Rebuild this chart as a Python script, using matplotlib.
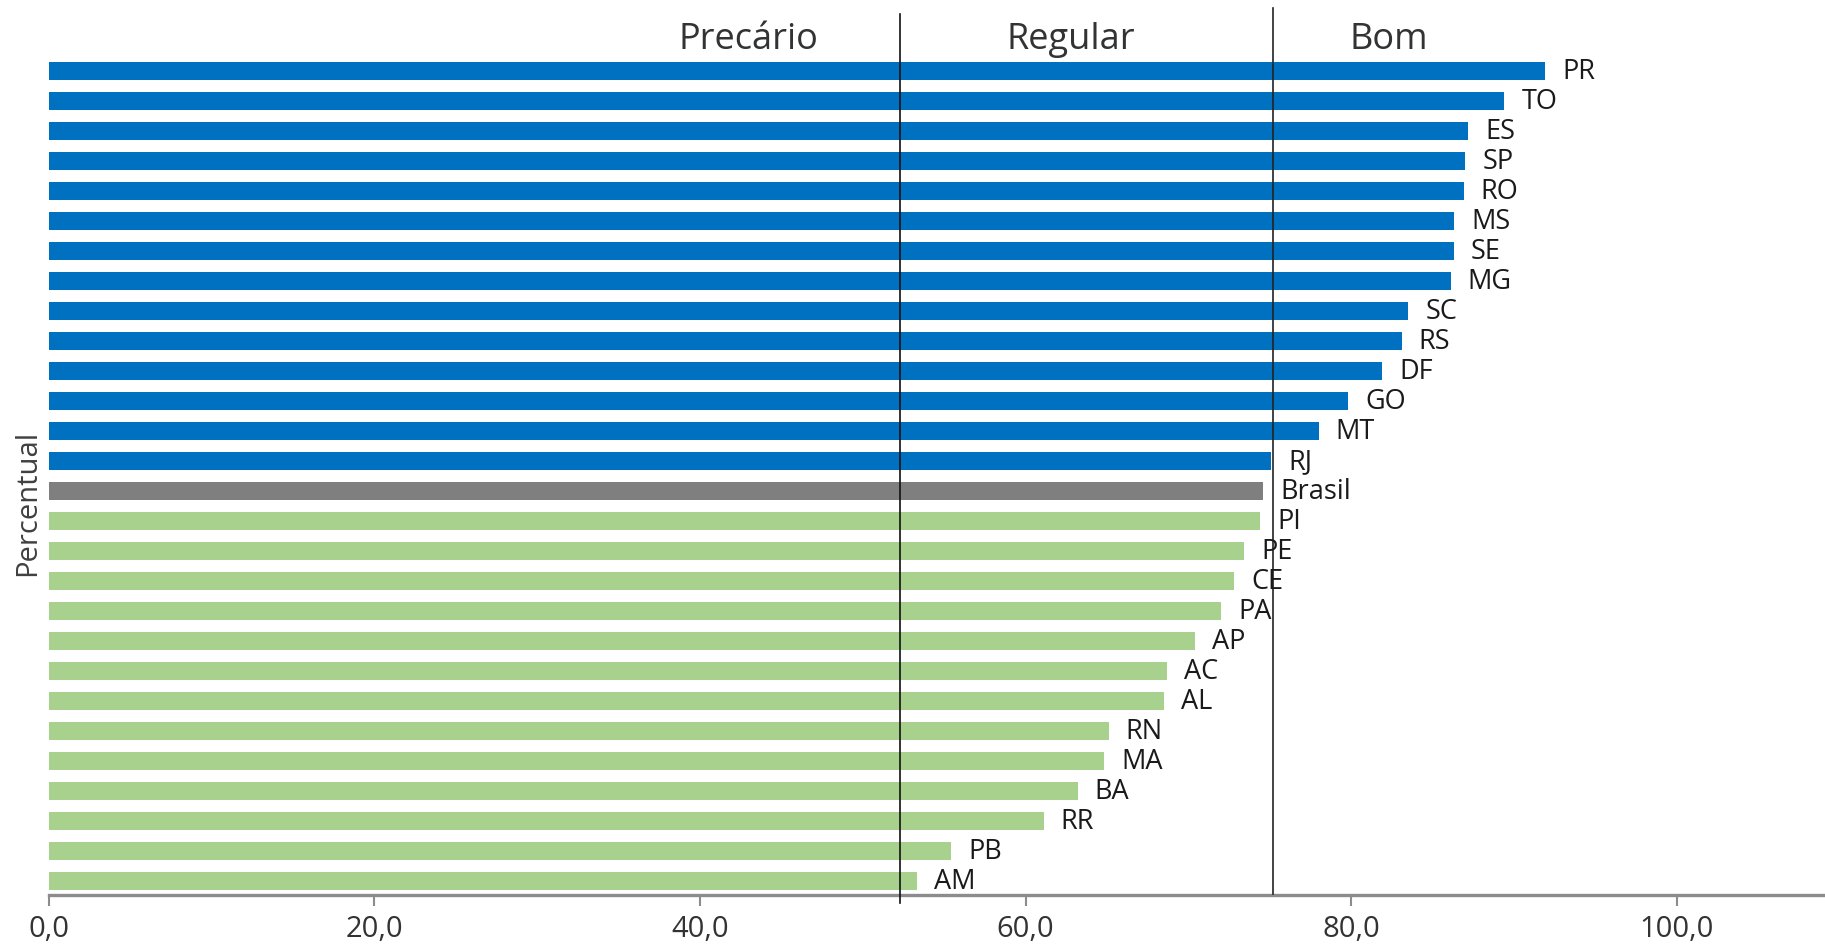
import matplotlib.pyplot as plt

plt.rcParams['font.family'] = ['Open Sans', 'DejaVu Sans']

# dados
estados = ["PR", "TO", "ES", "SP", "RO", "MS", "SE", "MG", "SC", "RS", "DF", "GO", "MT", "RJ",
           "Brasil", "PI", "PE", "CE", "PA", "AP", "AC", "AL", "RN", "MA", "BA", "RR", "PB", "AM"]
valores = [91.9, 89.4, 87.2, 87.0, 86.9, 86.3, 86.3, 86.1, 83.5, 83.1, 81.9, 79.8, 78.0, 75.1,
           74.6, 74.4, 73.4, 72.8, 72.0, 70.4, 68.7, 68.5, 65.1, 64.8, 63.2, 61.1, 55.4, 53.3]
grupos = ["bom"] * 14 + ["brasil"] + ["regular"] * 13
limites = [52.3, 75.2]
faixas = ["Precário", "Regular", "Bom"]
faixas_x = [43.0, 62.8, 82.3]
ticks = [0, 20, 40, 60, 80, 100]

cores = {"bom": "#0070C0", "brasil": "#7F7F7F", "regular": "#A9D18E"}

fig = plt.figure(figsize=(18.25, 9.45), dpi=100)
ax = fig.add_axes([0.0268, 0.052, 0.9732, 0.938])

pos = list(range(len(estados)))
ax.barh(pos, valores, height=0.6, color=[cores[g] for g in grupos], zorder=2)

for y, v, e in zip(pos, valores, estados):
    ax.text(v + 1.05, y, e, va="center", ha="left", fontsize=19.5, color="#1a1a1a", zorder=4)

# linhas de corte
ax.plot([limites[0], limites[0]], [27.75, -1.93], color="#111111", lw=1.2, zorder=3,
        clip_on=False)
ax.plot([limites[1], limites[1]], [27.45, -2.1], color="#222222", lw=1.2, zorder=3,
        clip_on=False)

for x, t in zip(faixas_x, faixas):
    ax.text(x, -1.07, t, ha="center", va="center", fontsize=26, color="#333333")

ax.set_ylim(27.467, -2.1)
ax.set_xlim(0, 109.1)

ax.set_xticks(ticks)
ax.set_xticklabels([f"{t:.1f}".replace(".", ",") for t in ticks])
ax.tick_params(axis="x", direction="out", length=8, width=1.5, color="#8c8c8c",
               labelsize=21, labelcolor="#333333", pad=6)
ax.set_yticks([])

for s in ["top", "right", "left"]:
    ax.spines[s].set_visible(False)
ax.spines["bottom"].set_color("#8c8c8c")
ax.spines["bottom"].set_linewidth(2.4)

fig.text(0.0153, 0.468, "Percentual", rotation=90, ha="center", va="center",
         fontsize=21, color="#404040")

fig.savefig("out.png", dpi=100)
